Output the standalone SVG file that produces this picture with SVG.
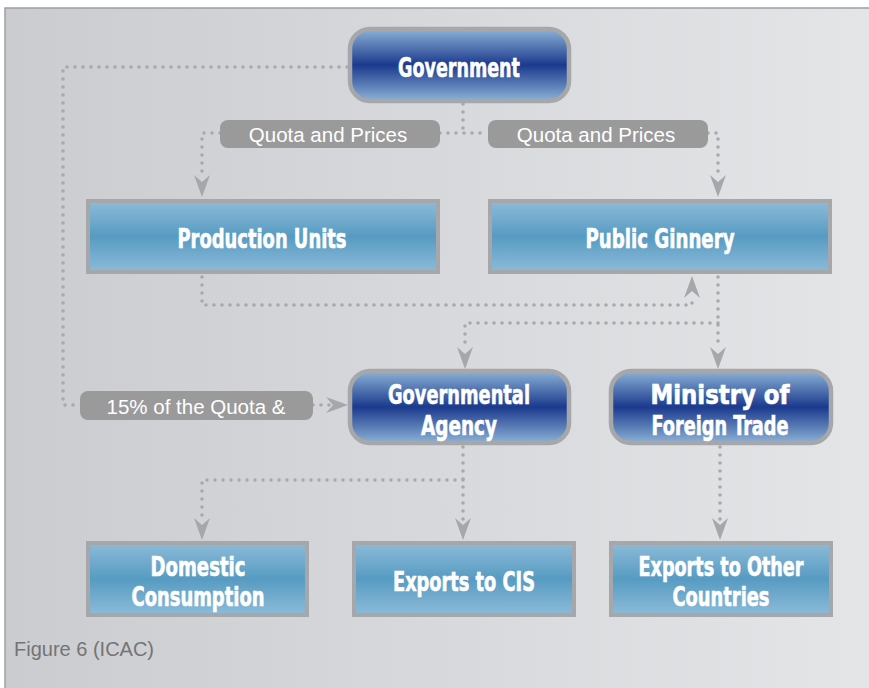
<svg xmlns="http://www.w3.org/2000/svg" width="869" height="688" viewBox="0 0 869 688">
<defs>
<linearGradient id="bg" x1="0" y1="0" x2="1" y2="0">
<stop offset="0" stop-color="#cbccd0"/>
<stop offset="1" stop-color="#e4e5e7"/>
</linearGradient>
<linearGradient id="navy" x1="0" y1="0" x2="0" y2="1">
<stop offset="0" stop-color="#8cb2d6"/>
<stop offset="0.5" stop-color="#1b3a8d"/>
<stop offset="1" stop-color="#8cb2d6"/>
</linearGradient>
<linearGradient id="sky" x1="0" y1="0" x2="0" y2="1">
<stop offset="0" stop-color="#8dbbd8"/>
<stop offset="0.5" stop-color="#579bc2"/>
<stop offset="1" stop-color="#8dbbd8"/>
</linearGradient>
<path id="ah" d="M0,0 L-8,-22 L0,-15 L8,-22 Z" fill="#a6a7ab"/>
</defs>
<style>
.round{fill:url(#navy);stroke:#a6a7aa;stroke-width:4.5}
.box{fill:url(#sky);stroke:#a6a7aa;stroke-width:4}
.nt{font-family:"Liberation Sans Narrow","DejaVu Sans Condensed","Liberation Sans",sans-serif;font-weight:bold;font-size:26px;fill:#ffffff;stroke:#ffffff;stroke-width:0.6;text-anchor:middle}
.lbl{fill:#9a9a9a}
.lt{font-family:"Liberation Sans",Arial,sans-serif;font-size:20.5px;fill:#ffffff;text-anchor:middle}
.dot{fill:none;stroke:#a8a9ad;stroke-width:3.6;stroke-linecap:round;stroke-dasharray:0 8}
</style>
<rect x="0" y="0" width="869" height="688" fill="#ffffff"/>
<rect x="5" y="8" width="864" height="680" fill="url(#bg)"/>
<path d="M5,688 V8 H869" fill="none" stroke="#9d9ea1" stroke-width="1.5"/>

<g id="connectors">
<path class="dot" d="M347,67 H63 V405 H80"/>
<path class="dot" d="M463,104 V133"/>
<path class="dot" d="M440,133 H488"/>
<path class="dot" d="M220,133 H202 V176"/>
<path class="dot" d="M708,133 H718 V176"/>
<path class="dot" d="M202,277 V305 H692 V296"/>
<path class="dot" d="M718,277 V349"/>
<path class="dot" d="M718,323 H465 V349"/>
<path class="dot" d="M313,405 H330"/>
<path class="dot" d="M463,447 V520"/>
<path class="dot" d="M463,480 H202 V520"/>
<path class="dot" d="M720,447 V520"/>
<use href="#ah" transform="translate(202,197)"/>
<use href="#ah" transform="translate(718,197)"/>
<use href="#ah" transform="translate(692,276) rotate(180)"/>
<use href="#ah" transform="translate(718,369)"/>
<use href="#ah" transform="translate(465,369)"/>
<use href="#ah" transform="translate(348,405) rotate(-90)"/>
<use href="#ah" transform="translate(202,540)"/>
<use href="#ah" transform="translate(463,540)"/>
<use href="#ah" transform="translate(720,540)"/>
</g>

<g id="label-quota-left">
<rect class="lbl" x="220" y="120" width="220" height="28" rx="8"/>
<text class="lt" x="328" y="142">Quota and Prices</text>
</g>
<g id="label-quota-right">
<rect class="lbl" x="488" y="120" width="220" height="28" rx="8"/>
<text class="lt" x="596" y="142">Quota and Prices</text>
</g>
<g id="label-15">
<rect class="lbl" x="80" y="391" width="233" height="29" rx="8"/>
<text class="lt" x="196" y="414" font-size="21">15% of the Quota &amp;</text>
</g>

<g id="government">
<rect class="round" x="350" y="29" width="219" height="72" rx="20"/>
<text class="nt" x="459" y="77" textLength="122" lengthAdjust="spacingAndGlyphs">Government</text>
</g>
<g id="production-units">
<rect class="box" x="88" y="201" width="350" height="71"/>
<text class="nt" x="262" y="248" textLength="169" lengthAdjust="spacingAndGlyphs">Production Units</text>
</g>
<g id="public-ginnery">
<rect class="box" x="490" y="201" width="340" height="71"/>
<text class="nt" x="660" y="248" textLength="149" lengthAdjust="spacingAndGlyphs">Public Ginnery</text>
</g>
<g id="governmental-agency">
<rect class="round" x="350" y="371" width="219" height="72" rx="20"/>
<text class="nt" x="459" y="404" textLength="142" lengthAdjust="spacingAndGlyphs">Governmental</text>
<text class="nt" x="459" y="435" textLength="76" lengthAdjust="spacingAndGlyphs">Agency</text>
</g>
<g id="ministry">
<rect class="round" x="611" y="371" width="220" height="72" rx="20"/>
<text class="nt" x="720" y="404" textLength="139" lengthAdjust="spacingAndGlyphs">Ministry of</text>
<text class="nt" x="720" y="435" textLength="137" lengthAdjust="spacingAndGlyphs">Foreign Trade</text>
</g>
<g id="domestic-consumption">
<rect class="box" x="88" y="543" width="219" height="72"/>
<text class="nt" x="198" y="576" textLength="95" lengthAdjust="spacingAndGlyphs">Domestic</text>
<text class="nt" x="198" y="606" textLength="133" lengthAdjust="spacingAndGlyphs">Consumption</text>
</g>
<g id="exports-cis">
<rect class="box" x="354" y="543" width="220" height="72"/>
<text class="nt" x="464" y="591" textLength="142" lengthAdjust="spacingAndGlyphs">Exports to CIS</text>
</g>
<g id="exports-other">
<rect class="box" x="611" y="543" width="220" height="72"/>
<text class="nt" x="721" y="576" textLength="165" lengthAdjust="spacingAndGlyphs">Exports to Other</text>
<text class="nt" x="721" y="606" textLength="97" lengthAdjust="spacingAndGlyphs">Countries</text>
</g>

<text x="14" y="656" font-family="Liberation Sans, Arial, sans-serif" font-size="20" fill="#747476">Figure 6 (ICAC)</text>
</svg>
